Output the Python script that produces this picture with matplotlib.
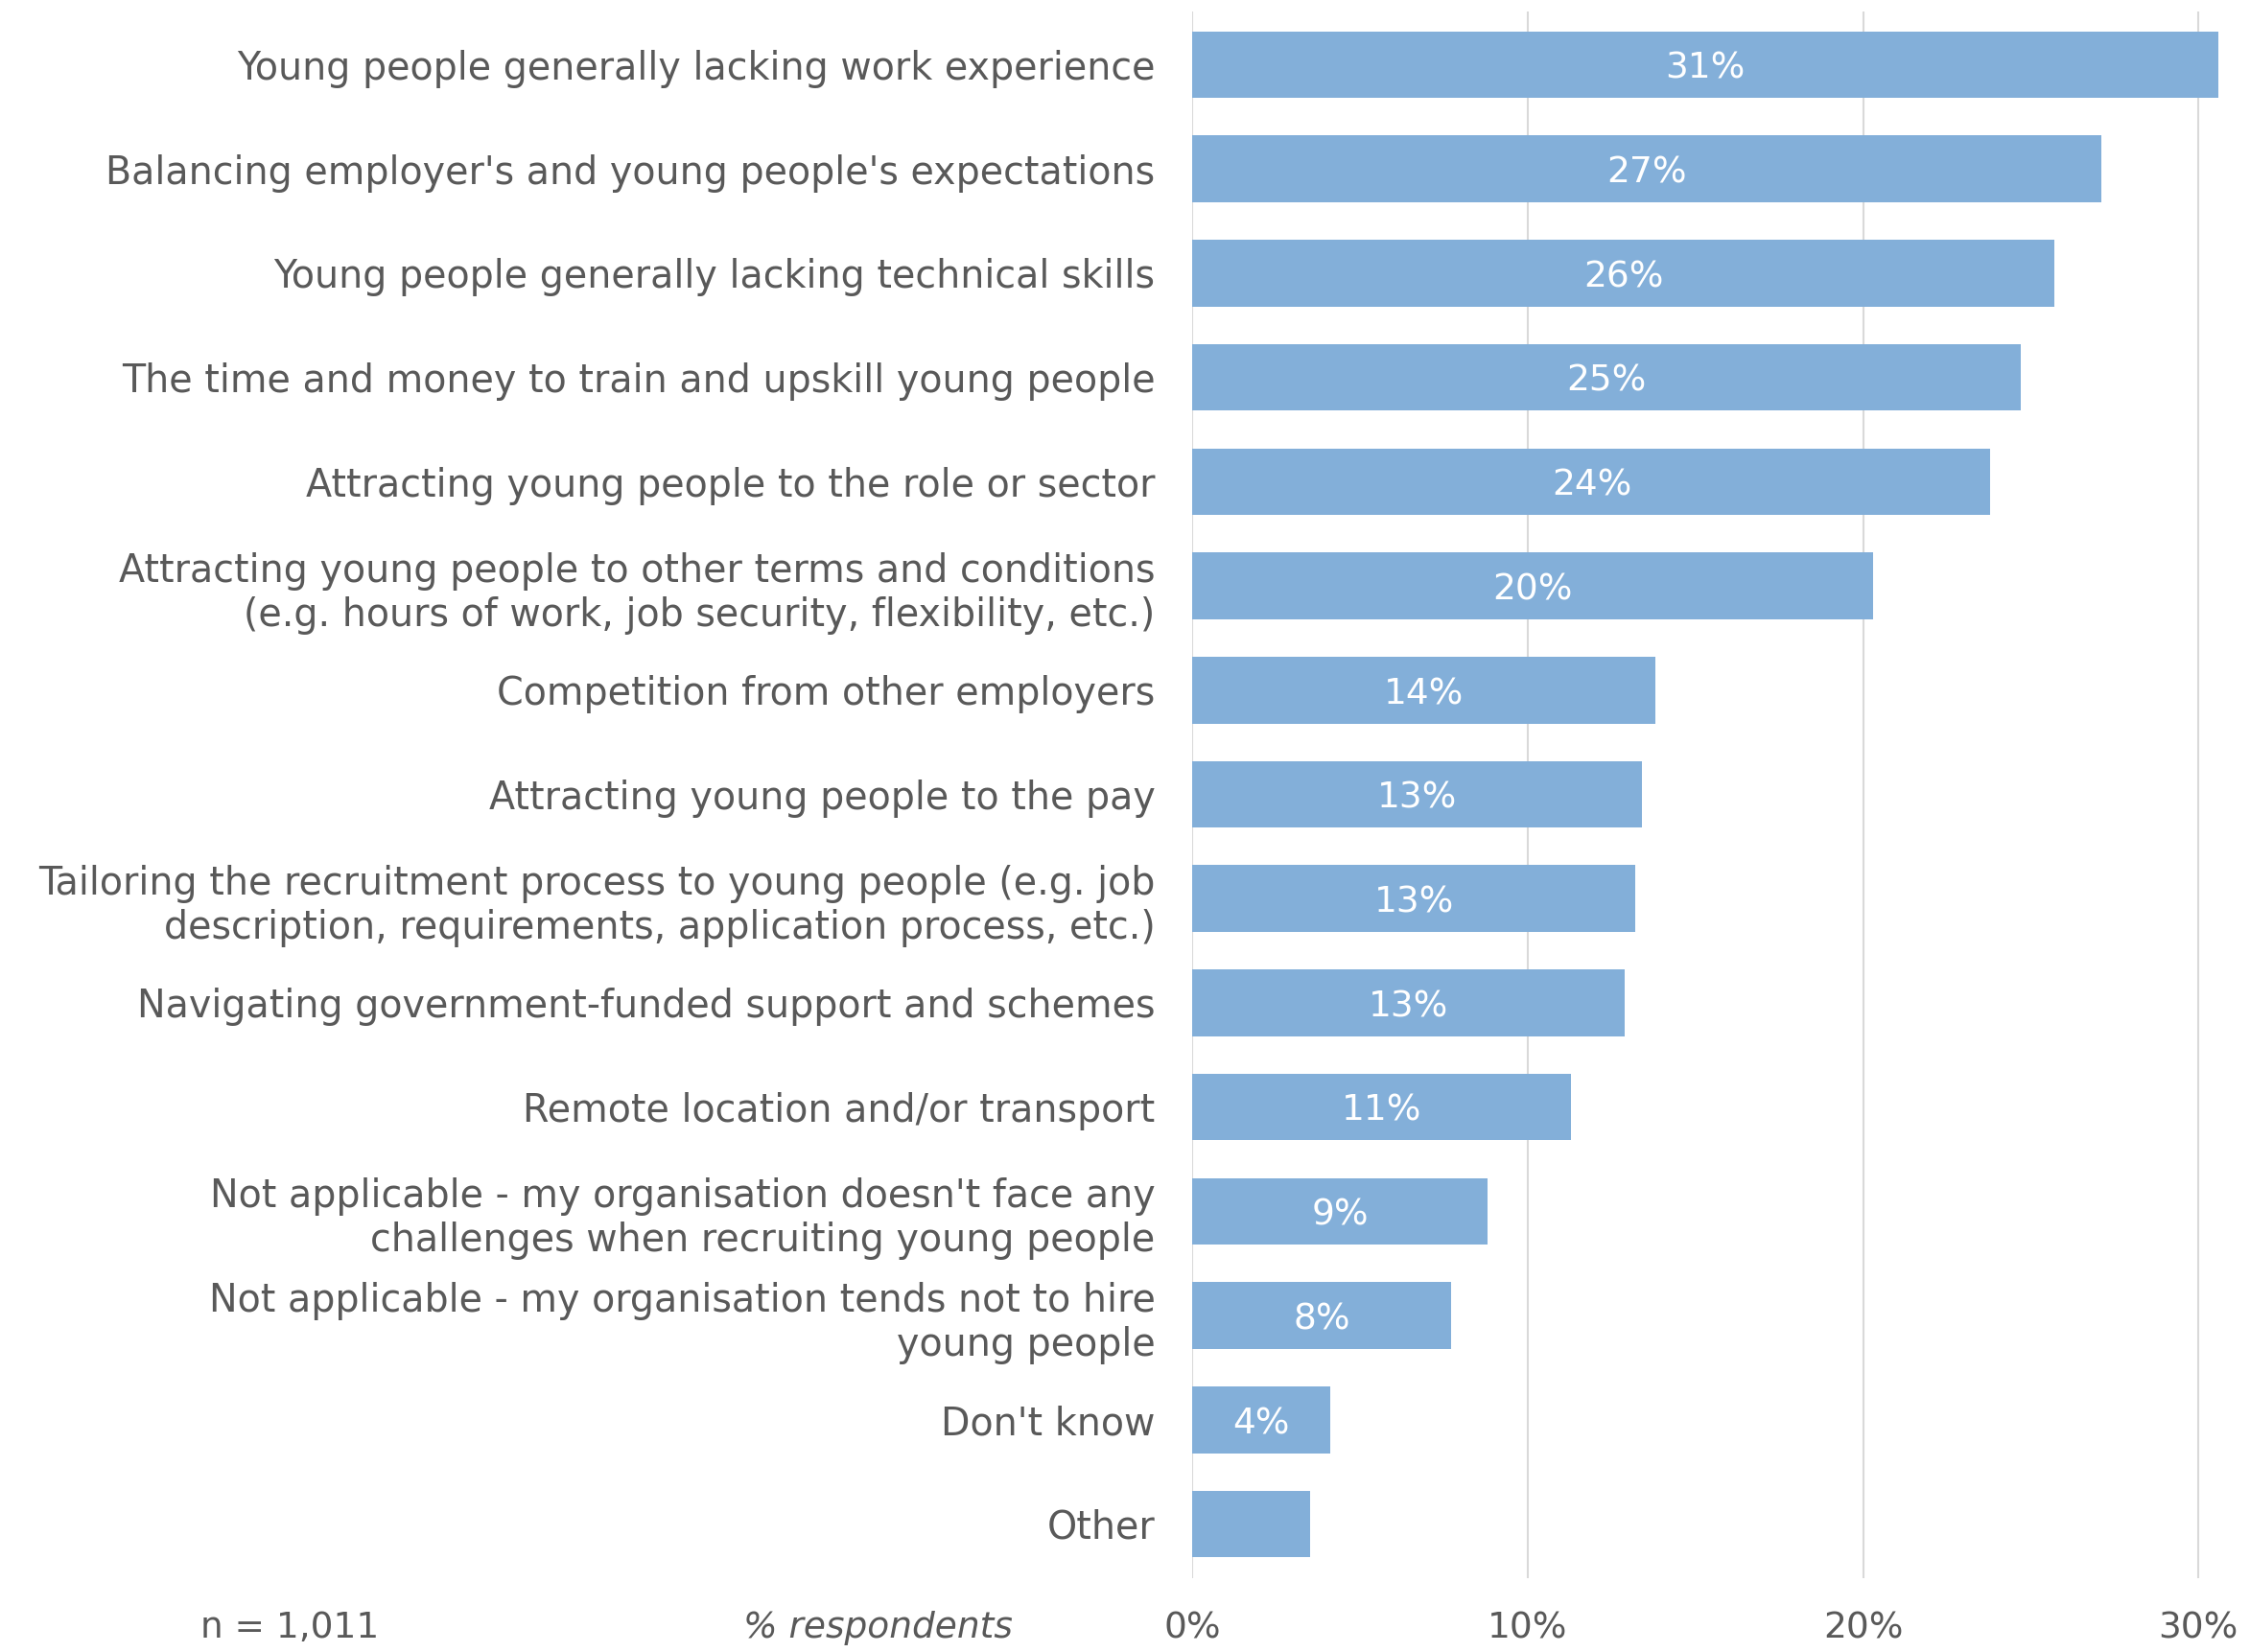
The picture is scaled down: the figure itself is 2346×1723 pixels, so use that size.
import matplotlib
matplotlib.use("Agg")
import matplotlib.pyplot as plt

categories = [
    "Young people generally lacking work experience",
    "Balancing employer's and young people's expectations",
    "Young people generally lacking technical skills",
    "The time and money to train and upskill young people",
    "Attracting young people to the role or sector",
    "Attracting young people to other terms and conditions\n(e.g. hours of work, job security, flexibility, etc.)",
    "Competition from other employers",
    "Attracting young people to the pay",
    "Tailoring the recruitment process to young people (e.g. job\ndescription, requirements, application process, etc.)",
    "Navigating government-funded support and schemes",
    "Remote location and/or transport",
    "Not applicable - my organisation doesn't face any\nchallenges when recruiting young people",
    "Not applicable - my organisation tends not to hire\nyoung people",
    "Don't know",
    "Other",
]
values = [30.6, 27.1, 25.7, 24.7, 23.8, 20.3, 13.8, 13.4, 13.2, 12.9, 11.3, 8.8, 7.7, 4.1, 3.5]
show_label = [True] * 14 + [False]
xticks = [0, 10, 20, 30]
xtick_labels = ["0%", "10%", "20%", "30%"]

BAR = "#83afd9"
TEXT = "#595959"
GRID = "#d9d9d9"
FONT = ["DejaVu Sans"]

plt.rcParams["font.family"] = FONT

fig = plt.figure(figsize=(23.46, 17.23), dpi=100)
ax = fig.add_axes([0.530, 0.0447, 0.462, 0.9483])

pos = list(range(len(categories)))
ax.barh(pos, values, height=0.64, color=BAR, zorder=2)

for p, v, s in zip(pos, values, show_label):
    if s:
        ax.text(v / 2, p + 0.04, f"{v:.0f}%", ha="center", va="center",
                color="white", fontsize=27, zorder=3)

ax.set_xlim(0, 31)
ax.set_ylim(14.52, -0.51)
ax.set_yticks(pos)
ax.set_yticklabels(categories, fontsize=28.5, color=TEXT, linespacing=1.2)
ax.set_xticks(xticks)
ax.set_xticklabels(xtick_labels, fontsize=27, color=TEXT)
ax.tick_params(axis="y", length=0, pad=28)
ax.tick_params(axis="x", length=0, pad=25)
for sp in ax.spines.values():
    sp.set_visible(False)
ax.grid(axis="x", color=GRID, linewidth=1.5, zorder=0)
ax.set_axisbelow(True)

fig.text(0.0893, 0.0085, "n = 1,011", fontsize=27, color=TEXT, ha="left", va="baseline")
fig.text(0.450, 0.0085, "% respondents", fontsize=27, color=TEXT, ha="right",
         va="baseline", style="italic")

fig.savefig("out.png", dpi=100, facecolor="white")
